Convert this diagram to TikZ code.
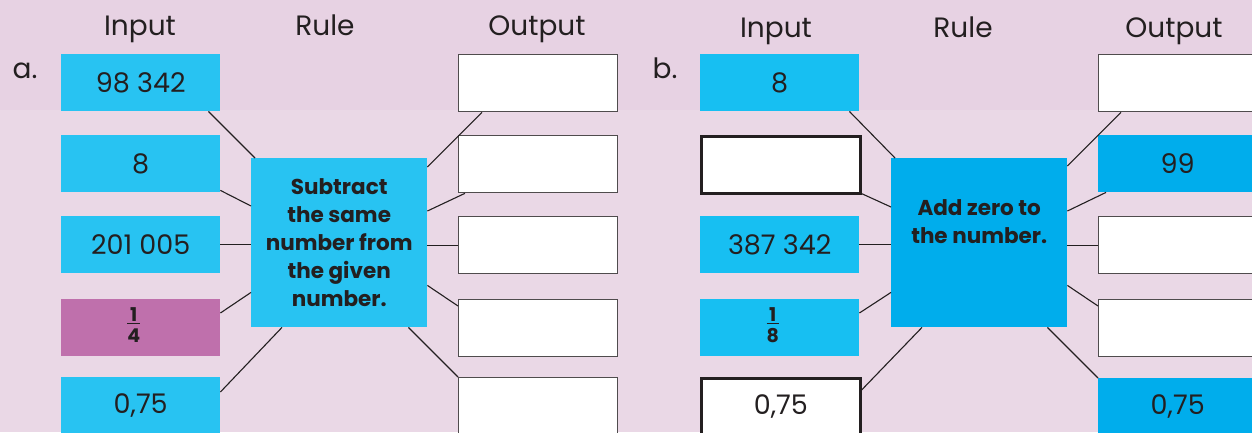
\documentclass[tikz,border=0pt]{standalone}
\usepackage{fontspec}
\setmainfont{Poppins}
\usetikzlibrary{calc}
\definecolor{bgtop}{HTML}{E7D2E3}
\definecolor{bgbot}{HTML}{EAD8E6}
\definecolor{cyanA}{HTML}{28C3F2}
\definecolor{cyanB}{HTML}{17BFF2}
\definecolor{blueB}{HTML}{00ADEC}
\definecolor{purp}{HTML}{BF70AC}
\definecolor{ink}{HTML}{231F20}
\tikzset{
  box/.style={minimum width=159pt,minimum height=57pt,inner sep=0pt,anchor=north west,text=ink,font=\fontsize{27}{30}\selectfont},
  cbox/.style={box,fill=#1},
  obox/.style={box,fill=white,draw=ink!80,line width=1.3pt},
  tbox/.style={box,fill=white,draw=ink,line width=2.6pt},
  rulebox/.style={minimum width=176pt,minimum height=169pt,inner sep=0pt,anchor=north west,fill=#1,text=ink,align=center,font=\fontsize{21.5}{28}\selectfont\bfseries},
  head/.style={text=ink,font=\fontsize{28}{30}\selectfont,inner sep=0pt,anchor=base},
  conn/.style={draw=ink,line width=1.1pt},
}
\newcommand{\fracbox}[2]{{\bfseries\fontsize{19}{20}\selectfont\begin{tabular}{@{}c@{}}#1\\[-4pt]\hline\rule{0pt}{19pt}#2\end{tabular}}\hspace*{14pt}}
\begin{document}
\begin{tikzpicture}[x=1pt,y=-1pt]
\useasboundingbox (0,0) rectangle (1252,432);
\clip (0,0) rectangle (1252,432);
\fill[bgbot] (0,0) rectangle (1252,432);
\fill[bgtop] (0,0) rectangle (1252,110);
% headings
\node[head] (ha1) at (140,35) {Input};
\node[head] (ha2) at (325,35) {Rule};
\node[head] (ha3) at (537,35) {Output};
\node[head] (la) at (25,78) {a.};
\node[head] (hb1) at (776,37) {Input};
\node[head] (hb2) at (963,37) {Rule};
\node[head] (hb3) at (1174,37) {Output};
\node[head] (lb) at (665,78) {b.};
% part a
\node[cbox=cyanA] (ia1) at (61,54) {98 342};
\node[cbox=cyanA] (ia2) at (61,135) {8};
\node[cbox=cyanA] (ia3) at (61,216) {201 005};
\node[cbox=purp] (ia4) at (61,299) {\fracbox{1}{4}};
\node[cbox=cyanA] (ia5) at (61,377) {0,75};
\node[rulebox=cyanA] (ra) at (251,158) {Subtract\\the same\\number from\\the given\\number.};
\node[obox] (oa1) at (458,54) {};
\node[obox] (oa2) at (458,135) {};
\node[obox] (oa3) at (458,216) {};
\node[obox] (oa4) at (458,299) {};
\node[obox] (oa5) at (458,377) {};
\draw[conn] ($(ia1.south east)+(-12,0)$) -- ($(ra.north west)+(4,0)$);
\draw[conn] ($(ia2.south east)+(0,-2)$) -- ($(ra.north west)+(0,48)$);
\draw[conn] (ia3.east) -- (ia3.east -| ra.west);
\draw[conn] ($(ia4.north east)+(0,14)$) -- ($(ra.south west)+(0,-35)$);
\draw[conn] ($(ia5.north east)+(0,15)$) -- ($(ra.south west)+(31,0)$);
\draw[conn] ($(ra.north east)+(0,9)$) -- ($(oa1.south west)+(24,0)$);
\draw[conn] ($(ra.north east)+(0,53)$) -- ($(oa2.south west)+(7,0)$);
\draw[conn] (oa3.west) -- (oa3.west -| ra.east);
\draw[conn] ($(ra.south east)+(0,-42)$) -- ($(oa4.north west)+(0,7)$);
\draw[conn] ($(ra.south east)+(-19,0)$) -- (oa5.north west);
% part b
\node[cbox=cyanB] (ib1) at (700,54) {8};
\node[tbox] (ib2) at (700,135) {};
\node[cbox=cyanB] (ib3) at (700,216) {387 342};
\node[cbox=cyanB] (ib4) at (700,299) {\fracbox{1}{8}};
\node[tbox] (ib5) at (700,377) {0,75};
\node[rulebox=blueB] (rb) at (891,158) {Add zero to\\the number.\\[14pt]\mbox{}};
\node[obox] (ob1) at (1098,54) {};
\node[cbox=blueB] (ob2) at (1098,135) {99};
\node[obox] (ob3) at (1098,216) {};
\node[obox] (ob4) at (1098,299) {};
\node[cbox=blueB] (ob5) at (1098,378) {0,75};
\draw[conn] ($(ib1.south east)+(-10,0)$) -- ($(rb.north west)+(4,0)$);
\draw[conn] ($(ib2.south east)+(0,-1)$) -- ($(rb.north west)+(0,49)$);
\draw[conn] (ib3.east) -- (ib3.east -| rb.west);
\draw[conn] ($(ib4.north east)+(0,14)$) -- ($(rb.south west)+(0,-35)$);
\draw[conn] ($(ib5.north east)+(0,13)$) -- ($(rb.south west)+(31,0)$);
\draw[conn] ($(rb.north east)+(0,8)$) -- ($(ob1.south west)+(23,0)$);
\draw[conn] ($(rb.north east)+(0,53)$) -- ($(ob2.south west)+(8,0)$);
\draw[conn] (ob3.west) -- (ob3.west -| rb.east);
\draw[conn] ($(rb.south east)+(0,-42)$) -- ($(ob4.north west)+(0,7)$);
\draw[conn] ($(rb.south east)+(-20,0)$) -- (ob5.north west);
\end{tikzpicture}
\end{document}
